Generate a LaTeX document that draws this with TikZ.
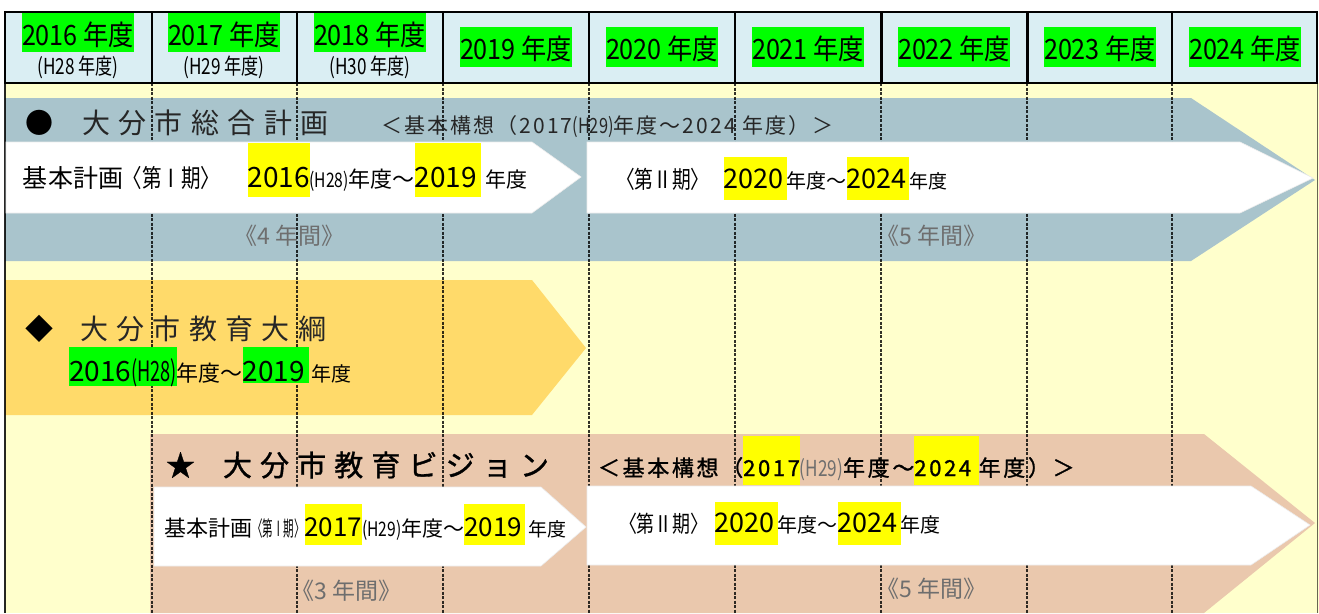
\documentclass[tikz,border=0pt]{standalone}
\usepackage{fontspec}
\setmainfont{Noto Sans CJK JP}
\newfontfamily\jp{Noto Sans CJK JP}
\newfontfamily\jph[FakeStretch=0.9]{Noto Sans CJK JP}
\newfontfamily\jpn[FakeStretch=0.78]{Noto Sans CJK JP}
\newfontfamily\jpm[FakeStretch=0.65]{Noto Sans CJK JP}
\newfontfamily\jpnn[FakeStretch=0.5]{Noto Sans CJK JP}
\newfontfamily\jpb[FakeBold=1.2]{Noto Sans CJK JP}
\newcommand\fs[1]{\fontsize{#1}{#1}\selectfont}
\newcommand\hl[4]{{\setlength{\fboxsep}{0pt}\colorbox{#1}{\rule[-#3]{0pt}{\dimexpr#2+#3\relax}#4}}}
\definecolor{hdrblue}{HTML}{DAEEF3}
\definecolor{bgy}{HTML}{FFFFCC}
\definecolor{grayband}{HTML}{A9C4CC}
\definecolor{goldband}{HTML}{FFDA6A}
\definecolor{tanband}{HTML}{EAC8AD}
\definecolor{hlgreen}{HTML}{00FF00}
\definecolor{hlyellow}{HTML}{FFFF00}
\definecolor{lbl}{HTML}{6E6E6E}
\definecolor{ttl}{HTML}{262626}
\begin{document}
\begin{tikzpicture}[x=1pt,y=-1pt,
  txt/.style={anchor=base west,inner sep=0pt,outer sep=0pt},
  hdr/.style={anchor=base,inner sep=0pt,outer sep=0pt},
  yrlbl/.style={anchor=base west,inner sep=0pt,text=lbl},
  hdrline/.style={line width=2pt,black},
  colline/.style={line width=1.3pt,black,opacity=0.8,dash pattern=on 3pt off 1.5pt},
  whitearrow/.style={fill=white,draw=white!85!gray,line width=0.6pt}]
\useasboundingbox (0,0) rectangle (1319,613);
\fill[white] (0,0) rectangle (1319,613);
% backgrounds
\fill[hdrblue] (5,12) rectangle (1317,83);
\fill[bgy] (5,83) rectangle (1319,613);
% bands
\fill[grayband] (5,98) -- (1191,98) -- (1315,180) -- (1191,261) -- (5,261) -- cycle;
\fill[goldband] (5,280) -- (532,280) -- (586,348) -- (532,415) -- (5,415) -- cycle;
\fill[tanband] (150,434) -- (1204,434) -- (1315,523) -- (1204,613) -- (150,613) -- cycle;
% column lines
\foreach \x in {152,297,443,589,735,1172} \draw[colline] (\x,83) -- (\x,613);
\foreach \x in {881,1027} \draw[colline,line width=2pt] (\x,83) -- (\x,613);
\draw[line width=2pt,black,opacity=0.85] (5,83) -- (5,613);
\draw[line width=1pt,black,opacity=0.6] (1317.5,83) -- (1317.5,613);
\foreach \x in {152,297,443,589,735,1172} \draw[hdrline] (\x,12) -- (\x,83);
\foreach \x in {881,1027} \draw[hdrline,line width=3pt] (\x,12) -- (\x,83);
\draw[hdrline] (5,12) rectangle (1317,83);
% white arrows
\draw[whitearrow] (6,142) -- (532,142) -- (581,177) -- (532,213) -- (6,213) -- cycle;
\draw[whitearrow] (587,142) -- (1240,142) -- (1313,178) -- (1240,213) -- (587,213) -- cycle;
\draw[whitearrow] (154,487) -- (541,487) -- (586,527) -- (541,566) -- (154,566) -- cycle;
\draw[whitearrow] (587,486) -- (1251,486) -- (1310,525) -- (1251,565) -- (587,565) -- cycle;
% header texts
\node[hdr] (h2016) at (78,45) {\fs{28}\jph\hl{hlgreen}{1.16em}{0.26em}{2016 年度}};
\node[hdr] (h2017) at (224,45) {\fs{28}\jph\hl{hlgreen}{1.16em}{0.26em}{2017 年度}};
\node[hdr] (h2018) at (370,45) {\fs{28}\jph\hl{hlgreen}{1.16em}{0.26em}{2018 年度}};
\node[hdr] (s2016) at (78,74) {\fs{22}\jpn(H28 年度)};
\node[hdr] (s2017) at (224,74) {\fs{22}\jpn(H29 年度)};
\node[hdr] (s2018) at (370,74) {\fs{22}\jpn(H30 年度)};
\node[hdr] (h2019) at (516,59) {\fs{28}\jph\hl{hlgreen}{1.16em}{0.3em}{2019 年度}};
\node[hdr] (h2020) at (662,59) {\fs{28}\jph\hl{hlgreen}{1.16em}{0.3em}{2020 年度}};
\node[hdr] (h2021) at (808,59) {\fs{28}\jph\hl{hlgreen}{1.16em}{0.3em}{2021 年度}};
\node[hdr] (h2022) at (954,59) {\fs{28}\jph\hl{hlgreen}{1.16em}{0.3em}{2022 年度}};
\node[hdr] (h2023) at (1100,59) {\fs{28}\jph\hl{hlgreen}{1.16em}{0.3em}{2023 年度}};
\node[hdr] (h2024) at (1245,59) {\fs{28}\jph\hl{hlgreen}{1.16em}{0.3em}{2024 年度}};
% band 1
\node[txt,text=ttl] (t1) at (25,133) {\fs{28}\makebox[57pt][l]{\color{black}●}\addfontfeature{LetterSpace=30}大分市総合計画};
\node[txt,text=ttl] (k1) at (381,133) {\fs{21}\addfontfeature{LetterSpace=10}＜基本構想（2017{\jpn(H29)}年度～2024 年度）＞};
\node[txt] (r1a) at (23,187) {\fs{25}基本計画{\jpn〈第Ⅰ期〉}\hspace{27pt}\fs{28}\hl{hlyellow}{1.57em}{0.36em}{2016}{\fs{20}\jpn(H28)}{\fs{22}年度～}\fs{28}\hl{hlyellow}{1.57em}{0.36em}{2019\kern4pt}\kern4pt{\fs{21}年度}};
\node[txt] (r1b) at (616,188) {{\fs{24}\jpn〈第Ⅱ期〉}\hspace{14pt}\fs{27}\hl{hlyellow}{1.15em}{0.45em}{2020\kern3pt}{\fs{20}年度～}\fs{27}\hl{hlyellow}{1.15em}{0.45em}{2024\kern3pt}{\fs{19}年度}};
\node[yrlbl] (d1a) at (234,244) {\fs{23}《4 年間》};
\node[yrlbl] (d1b) at (876,244) {\fs{23}《5 年間》};
% band 2
\node[txt,text=ttl] (t2) at (25,339) {\fs{28}\makebox[55pt][l]{\color{black}◆}\addfontfeature{LetterSpace=30}大分市教育大綱};
\node[txt] (r2) at (69,381) {\fs{28}\hl{hlgreen}{1.2em}{0.08em}{2016{\jpm(H28)}}{\fs{22}年度～}\fs{28}\hl{hlgreen}{1.2em}{0.08em}{2019\kern4pt}\kern2pt{\fs{20}年度}};
% band 3
\node[txt] (t3) at (166,476) {\fs{29}\jpb\makebox[57pt][l]{★}\addfontfeature{LetterSpace=28}大分市教育ビジョン};
\node[txt] (k3) at (598,476) {\fs{22}\jpb\addfontfeature{LetterSpace=12}＜基本構想（\hl{hlyellow}{1.82em}{0.41em}{2017}{\jpn\color{lbl}(H29)}年度～\hl{hlyellow}{1.82em}{0.41em}{2024 }年度）＞};
\node[txt] (r3a) at (164,536) {\fs{22}基本計画{\fs{21}\jpnn〈第Ⅰ期〉}\fs{26}\hl{hlyellow}{1.23em}{0.35em}{2017}{\fs{20}\jpn(H29)}{\fs{21}年度～}\fs{26}\hl{hlyellow}{1.23em}{0.35em}{2019\kern3pt}\kern3pt{\fs{19}年度}};
\node[txt] (r3b) at (619,532) {{\fs{23}\jpn〈第Ⅱ期〉}\kern6pt\fs{27}\hl{hlyellow}{1.1em}{0.48em}{2020\kern3pt}{\fs{20}年度～}\fs{27}\hl{hlyellow}{1.1em}{0.48em}{2024\kern3pt}{\fs{20}年度}};
\node[yrlbl] (d3a) at (291,599) {\fs{23}《3 年間》};
\node[yrlbl] (d3b) at (876,597) {\fs{23}《5 年間》};
\end{tikzpicture}
\end{document}
